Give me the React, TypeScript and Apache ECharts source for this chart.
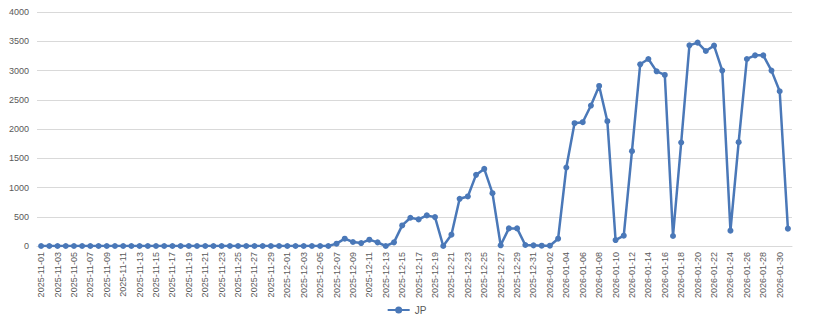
import React, { useEffect, useRef } from "react";
import * as echarts from "echarts";

const seriesName = "JP";

const novValues = Array.from({ length: 30 }, () => 0);
const decValues = [
  0, 0, 0, 0, 0, 0, 40, 125, 68, 50, 108, 62, 0, 62, 352, 483, 455, 523, 494, 0,
  193, 807, 847, 1216, 1318, 903, 12, 301, 301, 17, 11,
];
const janValues = [
  5, 5, 125, 1342, 2099, 2116, 2401, 2736, 2133, 102, 176, 1621, 3106, 3197, 2986, 2924,
  171, 1769, 3430, 3476, 3333, 3425, 2998, 262, 1775, 3197, 3259, 3259, 2998, 2645, 296,
];

const yTicks = { min: 0, max: 4000, interval: 500 };

function buildDates(): string[] {
  const out: string[] = [];
  const months: [number, number, number][] = [
    [2025, 11, 30],
    [2025, 12, 31],
    [2026, 1, 31],
  ];
  for (const [y, m, n] of months) {
    for (let d = 1; d <= n; d++) {
      out.push(`${y}-${String(m).padStart(2, "0")}-${String(d).padStart(2, "0")}`);
    }
  }
  return out;
}

const categories = buildDates();
const values = [...novValues, ...decValues, ...janValues];

export default function App() {
  const ref = useRef<HTMLDivElement>(null);
  useEffect(() => {
    if (!ref.current) return;
    const chart = echarts.init(ref.current, undefined, { renderer: "svg" });
    const color = "#4a78b8";
    chart.setOption({
      animation: false,
      backgroundColor: "#ffffff",
      textStyle: { fontFamily: "Liberation Sans, Arial, sans-serif" },
      graphic: [
        {
          type: "rect",
          shape: { x: 0.5, y: 0.5, width: 808, height: 324 },
          style: { fill: "none", stroke: "#d9d9d9", lineWidth: 1 },
          silent: true,
        },
      ],
      grid: { left: 37, right: 22, top: 12, bottom: 81, containLabel: false },
      legend: {
        data: [seriesName],
        bottom: 7,
        left: "center",
        itemWidth: 22,
        itemHeight: 7,
        itemGap: 4,
        textStyle: { color: "#595959", fontSize: 10 },
        icon:
          "path://M0,2.6 L8,2.6 L8,4.4 L0,4.4 Z M14,2.6 L22,2.6 L22,4.4 L14,4.4 Z M7.5,3.5 A3.5,3.5 0 1,1 14.5,3.5 A3.5,3.5 0 1,1 7.5,3.5 Z",
      },
      xAxis: {
        type: "category",
        data: categories,
        boundaryGap: true,
        axisLine: { show: true, lineStyle: { color: "#d9d9d9", width: 1 } },
        axisTick: { show: false },
        axisLabel: {
          interval: 1,
          rotate: 90,
          color: "#595959",
          fontSize: 9,
          margin: 6,
        },
        splitLine: { show: false },
      },
      yAxis: {
        type: "value",
        min: yTicks.min,
        max: yTicks.max,
        interval: yTicks.interval,
        axisLine: { show: false },
        axisTick: { show: false },
        axisLabel: {
          color: "#595959",
          fontSize: 9,
          margin: 8,
          formatter: (v: number) => String(v),
        },
        splitLine: { lineStyle: { color: "#d9d9d9", width: 1 } },
      },
      series: [
        {
          name: seriesName,
          type: "line",
          data: values,
          symbol: "circle",
          symbolSize: 6,
          showAllSymbol: true,
          lineStyle: { color, width: 2.5 },
          itemStyle: { color },
        },
      ],
    });
    return () => chart.dispose();
  }, []);
  return <div ref={ref} style={{ width: 814, height: 327, margin: -8 }} />;
}
